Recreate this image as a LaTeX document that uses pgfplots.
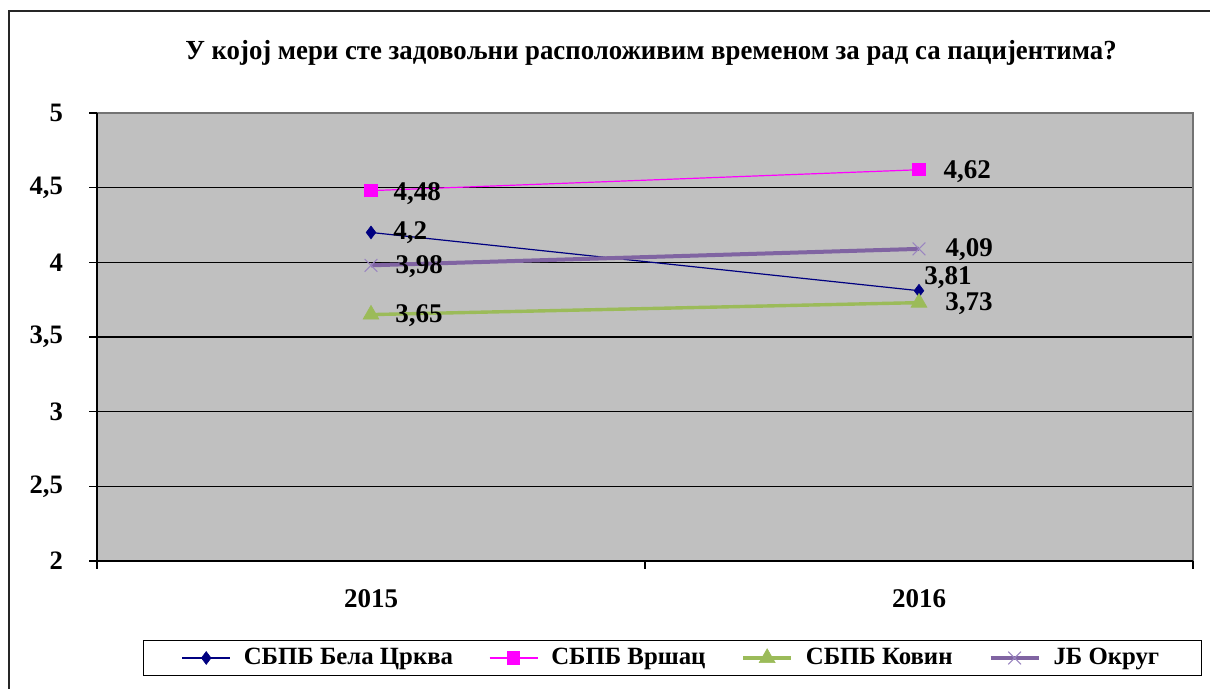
\documentclass[border=0pt]{standalone}
\usepackage{pgfplots}
\usepackage{pgfplotstable}
\pgfplotsset{compat=1.18}
\usepackage{fontspec}
\setmainfont{Liberation Serif}
\newfontfamily\narrowfont[FakeStretch=0.97]{Liberation Serif}
\definecolor{navyc}{HTML}{000080}
\definecolor{magc}{HTML}{FF00FF}
\definecolor{greenc}{HTML}{9BBB59}
\definecolor{purpc}{HTML}{8064A2}
\definecolor{purpm}{HTML}{9A85C0}
\definecolor{plotgray}{HTML}{C0C0C0}
\pgfplotsset{/pgf/number format/assume math mode=true}

\pgfplotstableread{
x y dx dy
0 4.2 11 0
1 3.81 2.5 6.5
}\tbA
\pgfplotstableread{
x y dx dy
0 4.48 11 -1.5
1 4.62 12 -1
}\tbB
\pgfplotstableread{
x y dx dy
0 3.65 12 -0.5
1 3.73 13 -0.5
}\tbC
\pgfplotstableread{
x y dx dy
0 3.98 12 -0.5
1 4.09 13 -0.5
}\tbD

\begin{document}
\begin{tikzpicture}[x=0.5pt,y=0.5pt]
\clip (0,0) rectangle (1210,689);
\draw[line width=0.8pt, black!85] (9,-5) -- (9,678) -- (1215,678);
\node[font=\narrowfont\bfseries\fontsize{13.8}{15}\selectfont] at (651,636) {У којој мери сте задовољни расположивим временом за рад са пацијентима?};
\begin{axis}[
  at={(48.5pt,64pt)}, anchor=south west,
  scale only axis, width=548pt, height=224pt,
  xmin=-0.5, xmax=1.5, ymin=2, ymax=5,
  clip=false,
  axis line style={draw=none},
  axis background/.style={fill=plotgray},
  xtick={-0.5,0.5,1.5}, xticklabels={},
  extra x ticks={0,1}, extra x tick labels={2015,2016},
  extra x tick style={major tick length=0pt, grid=none},
  xtick pos=lower, ytick pos=left,
  ytick={2,2.5,3,3.5,4,4.5,5},
  ymajorgrids, grid style={black, line width=0.6pt},
  tick align=outside, major tick length=4pt,
  tick style={black, line width=0.6pt},
  yticklabel style={/pgf/number format/use comma, font=\bfseries\fontsize{13.3}{15}\selectfont, xshift=-9.5pt},
  xticklabel style={font=\bfseries\fontsize{13.5}{15}\selectfont, yshift=-10.5pt},
  legend columns=4,
  legend cell align=left,
  legend style={at={(0.042,-0.2165)}, anchor=west, draw=black, line width=0.6pt,
    font=\bfseries\fontsize{12.4}{14}\selectfont, inner xsep=19pt, inner ysep=2pt,
    /tikz/every odd column/.append style={column sep=4.5pt},
    /tikz/every even column/.append style={column sep=16pt}},
  legend image code/.code={\draw[mark repeat=2,mark phase=2,#1] plot coordinates {(0pt,0pt)(12pt,0pt)(24pt,0pt)};},
  lbl/.style={
    nodes near coords={\pgfmathprintnumber[use comma]{\pgfplotspointmeta}},
    point meta=y,
    visualization depends on={\thisrow{dx}\as\dx},
    visualization depends on={\thisrow{dy}\as\dy},
    every node near coord/.append style={anchor=west, inner sep=0pt, xshift=\dx pt, yshift=\dy pt, font=\bfseries\fontsize{13.5}{15}\selectfont, text=black}},
]
\addplot[navyc, line width=0.6pt, mark=diamond*, mark size=3.2pt, mark options={fill=navyc, line width=0.3pt}, lbl] table[x=x,y=y] {\tbA};
\addlegendentry{СБПБ Бела Црква}
\addplot[magc, line width=0.6pt, mark=square*, mark size=3pt, mark options={fill=magc}, lbl] table[x=x,y=y] {\tbB};
\addlegendentry{СБПБ Вршац}
\addplot[greenc, line width=1.7pt, mark=triangle*, mark size=4.6pt, mark options={fill=greenc, line width=0.3pt}, lbl] table[x=x,y=y] {\tbC};
\addlegendentry{СБПБ Ковин}
\addplot[purpc, line width=2pt, mark=x, mark size=4.5pt, mark options={draw=purpm, line width=0.5pt}, lbl] table[x=x,y=y] {\tbD};
\addlegendentry{JБ Округ}
\draw[gray!90!black, line width=0.6pt] (rel axis cs:0,1) -- (rel axis cs:1,1) -- (rel axis cs:1,0);
\draw[black, line width=0.6pt] (rel axis cs:0,1) -- (rel axis cs:0,0) -- (rel axis cs:1,0);
\end{axis}
\end{tikzpicture}
\end{document}
